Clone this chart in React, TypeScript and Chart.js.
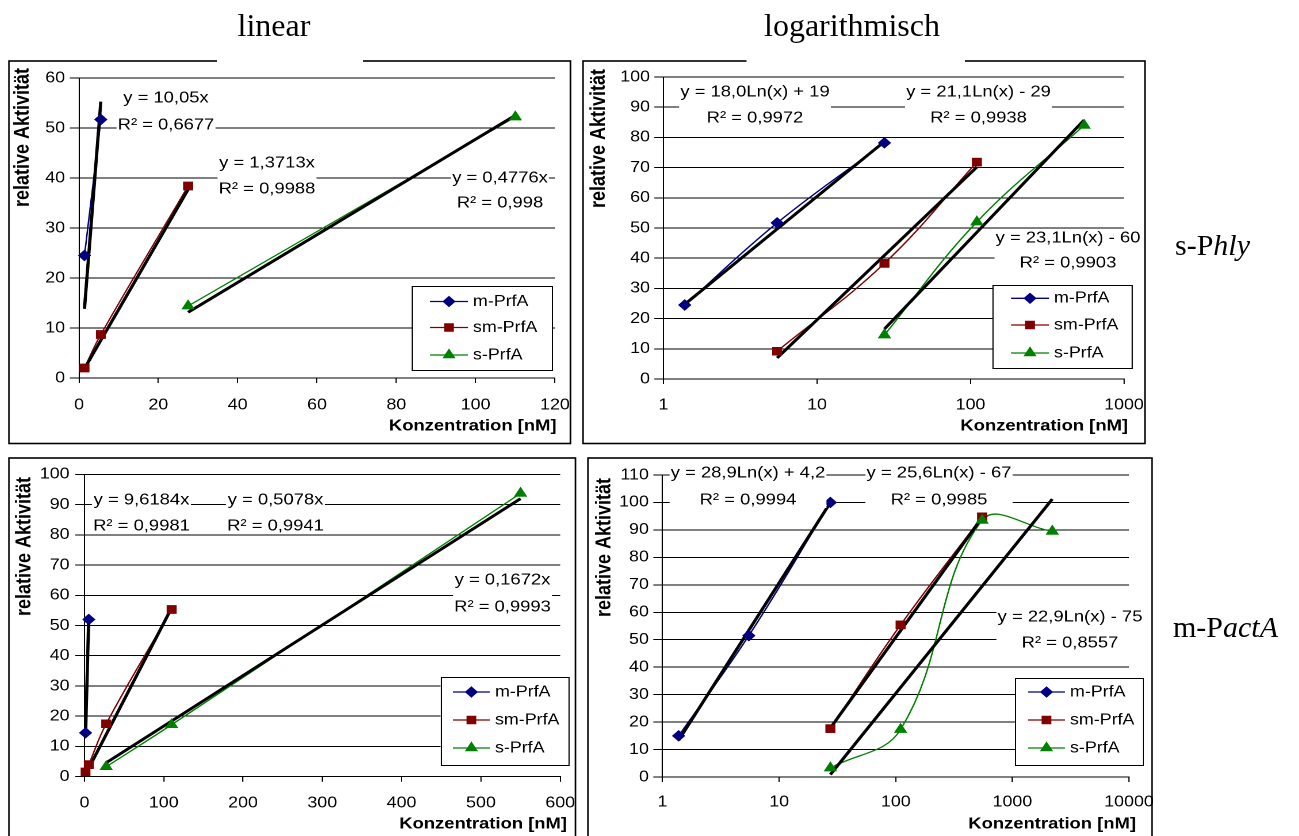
import React, { useEffect, useRef } from 'react';
import { Chart, registerables } from 'chart.js';

Chart.register(...registerables);

const SANS = "'Liberation Sans', Arial, Helvetica, sans-serif";
const SERIF = "'Liberation Serif', 'Times New Roman', Times, serif";
const STRETCH = 1.15;

const SERIES_NAMES = ['m-PrfA', 'sm-PrfA', 's-PrfA'];
const SERIES_COLORS = ['#000080', '#800000', '#008000'];
const SERIES_MARKERS = ['rectRot', 'rect', 'triangle'];
const MARKER_RADII = [5, 5.3, 5.6];

const AXIS_X_TITLE = 'Konzentration [nM]';
const AXIS_Y_TITLE = 'relative Aktivität';

// ---------- Panel 1: s-Phly, linear ----------
const p1MX = [1.375, 5.5];
const p1MY = [24.5, 51.7];
const p1SmX = [1.375, 5.5, 27.5];
const p1SmY = [2, 8.7, 38.4];
const p1SX = [27.5, 110];
const p1SY = [14.4, 52.2];
const p1Slope = [10.05, 1.3713, 0.4776];
const p1R2 = [0.6677, 0.9988, 0.998];
const p1XTicks = [0, 20, 40, 60, 80, 100, 120];
const p1YTicks = [0, 10, 20, 30, 40, 50, 60];

// ---------- Panel 2: s-Phly, logarithmisch ----------
const p2MX = [1.375, 5.5, 27.5];
const p2MY = [24.5, 51.7, 78.2];
const p2SmX = [5.5, 27.5, 110];
const p2SmY = [9.2, 38.3, 71.8];
const p2SX = [27.5, 110, 550];
const p2SY = [14.6, 52, 84];
const p2LnA = [18.0, 21.1, 23.1];
const p2LnB = [19, -29, -60];
const p2R2 = [0.9972, 0.9938, 0.9903];
const p2XTicks = [1, 10, 100, 1000];
const p2YTicks = [0, 10, 20, 30, 40, 50, 60, 70, 80, 90, 100];

// ---------- Panel 3: m-PactA, linear ----------
const p3MX = [1.375, 5.5];
const p3MY = [14.5, 52];
const p3SmX = [1.375, 5.5, 27.5, 110];
const p3SmY = [1.6, 4, 17.5, 55.3];
const p3SX = [27.5, 110, 550];
const p3SY = [3.3, 17.2, 93.7];
const p3Slope = [9.6184, 0.5078, 0.1672];
const p3R2 = [0.9981, 0.9941, 0.9993];
const p3XTicks = [0, 100, 200, 300, 400, 500, 600];
const p3YTicks = [0, 10, 20, 30, 40, 50, 60, 70, 80, 90, 100];

// ---------- Panel 4: m-PactA, logarithmisch ----------
const p4MX = [1.375, 5.5, 27.5];
const p4MY = [15, 51.5, 100];
const p4SmX = [27.5, 110, 550];
const p4SmY = [17.6, 55.4, 94.8];
const p4SX = [27.5, 110, 550, 2200];
const p4SY = [3.3, 17.3, 93.5, 89.5];
const p4LnA = [28.9, 25.6, 22.9];
const p4LnB = [4.2, -67, -75];
const p4R2 = [0.9994, 0.9985, 0.8557];
const p4XTicks = [1, 10, 100, 1000, 10000];
const p4YTicks = [0, 10, 20, 30, 40, 50, 60, 70, 80, 90, 100, 110];

// ---------- helpers ----------
const fmtNum = (v: number) => String(v).replace('.', ',');
const linEq = (a: number) => `y = ${fmtNum(a)}x`;
const lnEq = (a: number, b: number) =>
  `y = ${a.toFixed(1).replace('.', ',')}Ln(x) ${b < 0 ? '-' : '+'} ${fmtNum(Math.abs(b))}`;
const r2Label = (r: number) => `R² = ${fmtNum(r)}`;
const linFn = (a: number) => (x: number) => a * x;
const lnFn = (a: number, b: number) => (x: number) => a * Math.log(x) + b;

// ---------- layout (page pixels) ----------
type Geom = {
  box: number[]; // canvas l, t, r, b
  plot: number[]; // l, r, t, b
  xTickY: number;
  yLabelRight: number;
  xTitleY: number;
  xTitleRight: number;
  yTitleX: number;
  yTitleTop: number;
  labels: { x: number; y1: number; y2: number }[];
  legend: { box: number[]; rows: number[]; line: number[]; text: number };
};

const GEOM1: Geom = {
  box: [8, 60, 576, 444],
  plot: [79, 555, 78, 378],
  xTickY: 405,
  yLabelRight: 65,
  xTitleY: 426,
  xTitleRight: 556.5,
  yTitleX: 23,
  yTitleTop: 68,
  labels: [
    { x: 166, y1: 98, y2: 125 },
    { x: 267, y1: 163, y2: 189 },
    { x: 500, y1: 178, y2: 203 },
  ],
  legend: { box: [412, 286, 552, 370], rows: [301.5, 327.5, 355], line: [430, 468], text: 473 },
};
const GEOM2: Geom = {
  box: [583, 60, 1150, 444],
  plot: [663.5, 1124, 77, 379],
  xTickY: 405,
  yLabelRight: 650,
  xTitleY: 426,
  xTitleRight: 1128,
  yTitleX: 599,
  yTitleTop: 69,
  labels: [
    { x: 755, y1: 92, y2: 118 },
    { x: 978.5, y1: 92, y2: 118 },
    { x: 1068, y1: 238, y2: 263 },
  ],
  legend: { box: [992.6, 285, 1132, 368], rows: [298.3, 325, 353], line: [1011, 1049], text: 1054 },
};
const GEOM3: Geom = {
  box: [8, 457, 580, 836],
  plot: [84.4, 560.2, 474.3, 776.7],
  xTickY: 803,
  yLabelRight: 69.5,
  xTitleY: 824,
  xTitleRight: 567,
  yTitleX: 25,
  yTitleTop: 477,
  labels: [
    { x: 141.5, y1: 500, y2: 526 },
    { x: 275.5, y1: 500, y2: 526 },
    { x: 502.5, y1: 580, y2: 607 },
  ],
  legend: { box: [440.5, 677, 568, 765], rows: [692, 720, 748], line: [452.8, 490], text: 495 },
};
const GEOM4: Geom = {
  box: [588, 457, 1160, 836],
  plot: [662.5, 1129, 475, 777],
  xTickY: 802,
  yLabelRight: 648.8,
  xTitleY: 824,
  xTitleRight: 1136,
  yTitleX: 605,
  yTitleTop: 478,
  labels: [
    { x: 748, y1: 473, y2: 500 },
    { x: 939, y1: 473, y2: 500 },
    { x: 1070, y1: 617, y2: 643 },
  ],
  legend: { box: [1015, 678, 1143, 765], rows: [692, 720, 748], line: [1028, 1065], text: 1070 },
};

type Spec = {
  id: string;
  xType: 'linear' | 'logarithmic';
  xMin: number;
  xMax: number;
  yMax: number;
  xTicks: number[];
  yTicks: number[];
  xs: number[][];
  ys: number[][];
  trends: ((x: number) => number)[];
  eqs: string[];
  r2: string[];
  geom: Geom;
};

const PANELS: Spec[] = [
  {
    id: 'p1', xType: 'linear', xMin: 0, xMax: 120, yMax: 60, xTicks: p1XTicks, yTicks: p1YTicks,
    xs: [p1MX, p1SmX, p1SX], ys: [p1MY, p1SmY, p1SY],
    trends: p1Slope.map(linFn), eqs: p1Slope.map(linEq), r2: p1R2.map(r2Label), geom: GEOM1,
  },
  {
    id: 'p2', xType: 'logarithmic', xMin: 1, xMax: 1000, yMax: 100, xTicks: p2XTicks, yTicks: p2YTicks,
    xs: [p2MX, p2SmX, p2SX], ys: [p2MY, p2SmY, p2SY],
    trends: p2LnA.map((a, i) => lnFn(a, p2LnB[i])), eqs: p2LnA.map((a, i) => lnEq(a, p2LnB[i])),
    r2: p2R2.map(r2Label), geom: GEOM2,
  },
  {
    id: 'p3', xType: 'linear', xMin: 0, xMax: 600, yMax: 100, xTicks: p3XTicks, yTicks: p3YTicks,
    xs: [p3MX, p3SmX, p3SX], ys: [p3MY, p3SmY, p3SY],
    trends: p3Slope.map(linFn), eqs: p3Slope.map(linEq), r2: p3R2.map(r2Label), geom: GEOM3,
  },
  {
    id: 'p4', xType: 'logarithmic', xMin: 1, xMax: 10000, yMax: 110, xTicks: p4XTicks, yTicks: p4YTicks,
    xs: [p4MX, p4SmX, p4SX], ys: [p4MY, p4SmY, p4SY],
    trends: p4LnA.map((a, i) => lnFn(a, p4LnB[i])), eqs: p4LnA.map((a, i) => lnEq(a, p4LnB[i])),
    r2: p4R2.map(r2Label), geom: GEOM4,
  },
];

function drawMarker(ctx: CanvasRenderingContext2D, style: string, x: number, y: number, r: number, color: string) {
  ctx.save();
  ctx.fillStyle = color;
  ctx.strokeStyle = color;
  ctx.lineWidth = 1;
  ctx.beginPath();
  if (style === 'rectRot') {
    ctx.moveTo(x, y - r);
    ctx.lineTo(x + r, y);
    ctx.lineTo(x, y + r);
    ctx.lineTo(x - r, y);
  } else if (style === 'rect') {
    const s = r * Math.SQRT1_2;
    ctx.rect(x - s, y - s, 2 * s, 2 * s);
  } else {
    ctx.moveTo(x, y - r);
    ctx.lineTo(x + r * 0.866, y + r * 0.5);
    ctx.lineTo(x - r * 0.866, y + r * 0.5);
  }
  ctx.closePath();
  ctx.fill();
  ctx.stroke();
  ctx.restore();
}

function Panel({ spec }: { spec: Spec }) {
  const ref = useRef<HTMLCanvasElement>(null);
  const g = spec.geom;
  const cssW = g.box[2] - g.box[0];
  const H = g.box[3] - g.box[1];
  const Wl = Math.round(cssW / STRETCH);

  useEffect(() => {
    const canvas = ref.current;
    if (!canvas) return;
    const k = Wl / cssW;
    const L = (px: number) => (px - g.box[0]) * k;
    const T = (py: number) => py - g.box[1];
    const plotL = L(g.plot[0]);
    const plotR = L(g.plot[1]);
    const plotT = T(g.plot[2]);
    const plotB = T(g.plot[3]);

    const tickSize = 15.5;
    const xTitleSize = 16;
    const yTitleSize = 18;
    const TLX = 5;
    const TLY = 8;
    const xPad = T(g.xTickY) - plotB - TLX - 0.6 * tickSize;
    const yPad = plotL - L(g.yLabelRight) - TLY;

    const datasets: any[] = [];
    spec.xs.forEach((xs, i) => {
      const ys = spec.ys[i];
      datasets.push({
        label: SERIES_NAMES[i],
        data: xs.map((x, j) => ({ x, y: ys[j] })),
        borderColor: SERIES_COLORS[i],
        backgroundColor: SERIES_COLORS[i],
        borderWidth: 1.3,
        pointStyle: SERIES_MARKERS[i],
        pointRadius: MARKER_RADII[i],
        pointBorderWidth: 1,
        tension: 0.4,
        fill: false,
        order: 1,
      });
    });
    spec.trends.forEach((f, i) => {
      const xs = spec.xs[i];
      const lo = Math.min(...xs);
      const hi = Math.max(...xs);
      datasets.push({
        label: `Trend ${SERIES_NAMES[i]}`,
        data: [
          { x: lo, y: f(lo) },
          { x: hi, y: f(hi) },
        ],
        borderColor: '#000',
        backgroundColor: '#000',
        borderWidth: 2.8,
        pointRadius: 0,
        tension: 0,
        fill: false,
        order: 0,
      });
    });

    const labels = g.labels.map((lb, i) => ({
      x: L(lb.x),
      y1: T(lb.y1),
      y2: T(lb.y2),
      t1: spec.eqs[i],
      t2: spec.r2[i],
    }));
    const lg = g.legend;

    const overlay = {
      id: 'panelOverlay',
      afterDatasetsDraw(chart: any) {
        const ctx: CanvasRenderingContext2D = chart.ctx;
        const area = chart.chartArea;
        for (let i = 0; i < spec.xs.length; i++) {
          const meta = chart.getDatasetMeta(i);
          meta.data.forEach((p: any) => p.draw(ctx, area));
        }
        ctx.save();
        // axis titles
        ctx.fillStyle = '#000';
        ctx.font = `bold ${xTitleSize}px ${SANS}`;
        ctx.textAlign = 'right';
        ctx.textBaseline = 'middle';
        ctx.fillText(AXIS_X_TITLE, L(g.xTitleRight), T(g.xTitleY));
        ctx.save();
        ctx.translate(L(g.yTitleX), T(g.yTitleTop));
        ctx.rotate(-Math.PI / 2);
        ctx.font = `bold ${yTitleSize}px ${SANS}`;
        ctx.textAlign = 'right';
        ctx.textBaseline = 'middle';
        ctx.fillText(AXIS_Y_TITLE, 0, 0);
        ctx.restore();
        // trendline equations
        ctx.font = `16px ${SANS}`;
        ctx.textAlign = 'center';
        ctx.textBaseline = 'middle';
        labels.forEach((lb) => {
          const w = Math.max(ctx.measureText(lb.t1).width, ctx.measureText(lb.t2).width);
          ctx.fillStyle = '#fff';
          ctx.fillRect(lb.x - w / 2 - 1, lb.y1 - 9, w + 2, lb.y2 - lb.y1 + 17);
          ctx.fillStyle = '#000';
          ctx.fillText(lb.t1, lb.x, lb.y1);
          ctx.fillText(lb.t2, lb.x, lb.y2);
        });
        // legend
        const bx0 = L(lg.box[0]);
        const by0 = T(lg.box[1]);
        const bx1 = L(lg.box[2]);
        const by1 = T(lg.box[3]);
        ctx.fillStyle = '#fff';
        ctx.fillRect(bx0, by0, bx1 - bx0, by1 - by0);
        ctx.strokeStyle = '#000';
        ctx.lineWidth = 1;
        ctx.strokeRect(Math.round(bx0) + 0.5, Math.round(by0) + 0.5, Math.round(bx1 - bx0), Math.round(by1 - by0));
        ctx.font = `15.5px ${SANS}`;
        ctx.textAlign = 'left';
        ctx.textBaseline = 'middle';
        SERIES_NAMES.forEach((name, i) => {
          const y = T(lg.rows[i]);
          const x0 = L(lg.line[0]);
          const x1 = L(lg.line[1]);
          ctx.strokeStyle = SERIES_COLORS[i];
          ctx.lineWidth = 1.3;
          ctx.beginPath();
          ctx.moveTo(x0, y);
          ctx.lineTo(x1, y);
          ctx.stroke();
          drawMarker(ctx, SERIES_MARKERS[i], (x0 + x1) / 2, y, MARKER_RADII[i], SERIES_COLORS[i]);
          ctx.fillStyle = '#000';
          ctx.fillText(name, L(lg.text), y);
        });
        ctx.restore();
      },
    };

    const chart = new Chart(canvas, {
      type: 'line',
      data: { datasets },
      options: {
        responsive: false,
        animation: false,
        devicePixelRatio: 2,
        events: [],
        layout: { padding: { left: 0, top: plotT, right: Wl - plotR, bottom: 0 } },
        plugins: {
          legend: { display: false },
          tooltip: { enabled: false },
        },
        scales: {
          x: {
            type: spec.xType,
            min: spec.xMin,
            max: spec.xMax,
            afterBuildTicks: (s: any) => {
              s.ticks = spec.xTicks.map((v) => ({ value: v }));
            },
            afterFit: (s: any) => {
              s.height = H - plotB;
              s.paddingLeft = 0;
              s.paddingRight = 0;
            },
            grid: { drawOnChartArea: false, drawTicks: true, tickLength: TLX, color: '#000', lineWidth: 1 },
            border: { display: true, color: '#000', width: 1 },
            ticks: {
              autoSkip: false,
              maxRotation: 0,
              minRotation: 0,
              padding: xPad,
              color: '#000',
              font: { family: SANS, size: tickSize },
              callback: (v: any) => String(v),
            },
            title: { display: false },
          },
          y: {
            type: 'linear',
            min: 0,
            max: spec.yMax,
            afterBuildTicks: (s: any) => {
              s.ticks = spec.yTicks.map((v) => ({ value: v }));
            },
            afterFit: (s: any) => {
              s.width = plotL;
              s.paddingTop = 0;
              s.paddingBottom = 0;
            },
            grid: { drawOnChartArea: true, drawTicks: true, tickLength: TLY, color: '#000', lineWidth: 1 },
            border: { display: true, color: '#000', width: 1 },
            ticks: {
              padding: yPad,
              color: '#000',
              font: { family: SANS, size: tickSize },
              callback: (v: any) => String(v),
            },
            title: { display: false },
          },
        },
      } as any,
      plugins: [overlay],
    } as any);
    return () => chart.destroy();
  }, []);

  return (
    <canvas
      ref={ref}
      width={Wl}
      height={H}
      style={{ position: 'absolute', left: g.box[0], top: g.box[1], width: cssW, height: H }}
    />
  );
}

const BORDERS = [
  [9, 61, 570.5, 443.5],
  [583, 61, 1145, 443.5],
  [9, 458, 575.5, 850],
  [588, 458, 1152, 850],
];
const GAPS = [
  [217, 55, 363, 67],
  [746.5, 55, 965, 67],
];

export default function App() {
  return (
    <div
      style={{
        position: 'fixed',
        left: 0,
        top: 0,
        width: 1299,
        height: 836,
        overflow: 'hidden',
        background: '#fff',
      }}
    >
      {PANELS.map((p) => (
        <Panel key={p.id} spec={p} />
      ))}
      <svg
        width={1299}
        height={836}
        style={{ position: 'absolute', left: 0, top: 0, pointerEvents: 'none' }}
      >
        {BORDERS.map((b, i) => (
          <rect key={i} x={b[0]} y={b[1]} width={b[2] - b[0]} height={b[3] - b[1]} fill="none" stroke="#000" strokeWidth={1.6} />
        ))}
        {GAPS.map((b, i) => (
          <rect key={'g' + i} x={b[0]} y={b[1]} width={b[2] - b[0]} height={b[3] - b[1]} fill="#fff" />
        ))}
        <text x={274} y={36} textAnchor="middle" fontFamily={SERIF} fontSize={32} fill="#000">
          linear
        </text>
        <text x={852} y={36} textAnchor="middle" fontFamily={SERIF} fontSize={32} fill="#000">
          logarithmisch
        </text>
        <text x={1175} y={255} fontFamily={SERIF} fontSize={30} fill="#000">
          s-P<tspan fontStyle="italic">hly</tspan>
        </text>
        <text x={1173} y={637} fontFamily={SERIF} fontSize={30} fill="#000">
          m-P<tspan fontStyle="italic">actA</tspan>
        </text>
      </svg>
    </div>
  );
}
